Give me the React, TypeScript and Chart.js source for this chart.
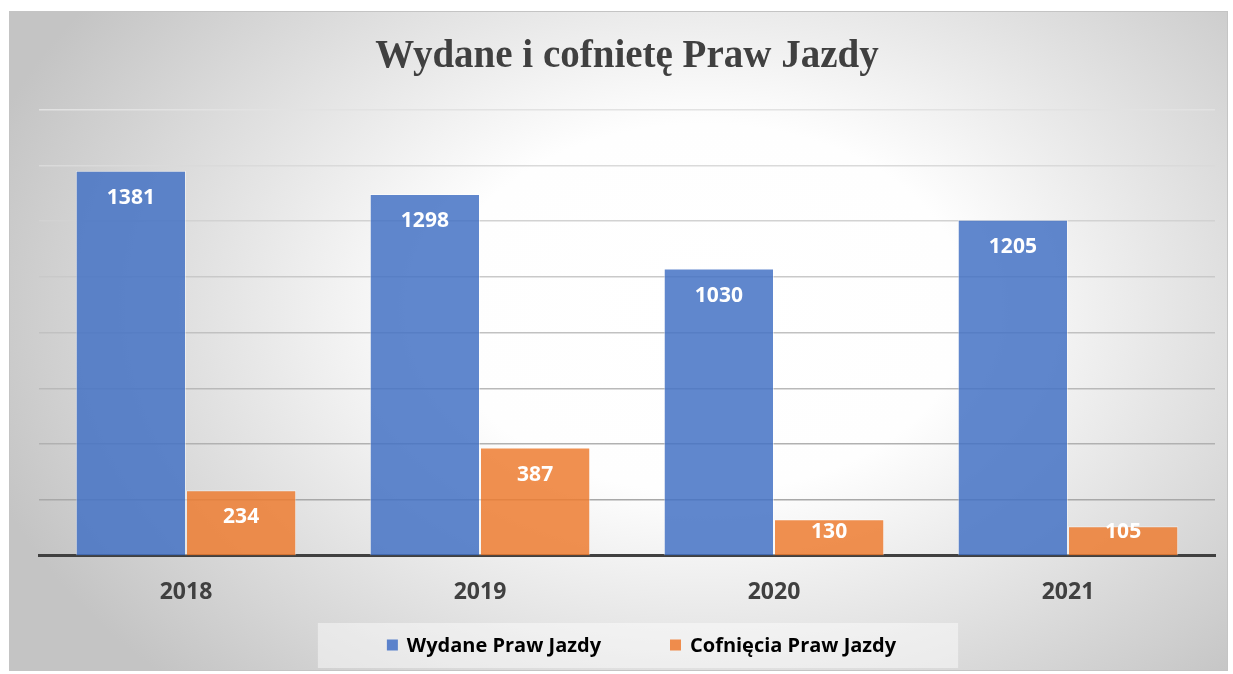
import React, { useEffect, useRef } from "react";
import { Chart, registerables } from "chart.js";

Chart.register(...registerables);

const categories = ["2018", "2019", "2020", "2021"];
const issuedLabel = "Wydane Praw Jazdy";
const revokedLabel = "Cofnięcia Praw Jazdy";
const issuedValues = [1381, 1298, 1030, 1205];
const revokedValues = [234, 387, 130, 105];
const yMax = 1600;
const yStep = 200;
const titleText = "Wydane i cofnietę Praw Jazdy";

const SANS = "'Open Sans', 'DejaVu Sans', sans-serif";

function gridColor(value: number): string {
  const t = Math.max(0, Math.min(1, value / yMax));
  const c = Math.round(160 + t * 66);
  return `rgb(${c},${c},${c})`;
}

const dataLabelPlugin = {
  id: "dataLabels",
  afterDatasetsDraw(chart: any) {
    const ctx = chart.ctx;
    ctx.save();
    ctx.fillStyle = "#ffffff";
    ctx.font = `bold 21px ${SANS}`;
    ctx.textAlign = "center";
    ctx.textBaseline = "middle";
    chart.data.datasets.forEach((ds: any, i: number) => {
      const meta = chart.getDatasetMeta(i);
      meta.data.forEach((bar: any, j: number) => {
        const y = Math.min(bar.y + 27, bar.base - 23);
        ctx.fillText(String(ds.data[j]), bar.x, y);
      });
    });
    ctx.restore();
  },
};

const customLegendPlugin = {
  id: "customLegend",
  afterDraw(chart: any) {
    const ctx = chart.ctx;
    const cy = chart.height - 25;
    ctx.save();
    ctx.font = `bold 20px ${SANS}`;
    const box = 11;
    const gap = 9;
    const itemGap = 69;
    const widths = chart.data.datasets.map(
      (ds: any) => box + gap + ctx.measureText(ds.label).width
    );
    const total = widths.reduce((a: number, b: number) => a + b, 0) + itemGap * (widths.length - 1);
    let x = chart.width / 2 - total / 2 + 23;
    ctx.fillStyle = "rgba(255,255,255,0.45)";
    ctx.fillRect(x - 69, cy - 22, total + 69 + 62, 45);
    ctx.textBaseline = "middle";
    ctx.textAlign = "left";
    chart.data.datasets.forEach((ds: any, i: number) => {
      ctx.fillStyle = ds.legendColor;
      ctx.fillRect(x, cy - box / 2, box, box);
      ctx.fillStyle = "#000000";
      ctx.fillText(ds.label, x + box + gap, cy + 1);
      x += widths[i] + itemGap;
    });
    ctx.restore();
  },
};

export default function App() {
  const canvasRef = useRef<HTMLCanvasElement | null>(null);

  useEffect(() => {
    if (!canvasRef.current) return;
    const chart = new Chart(canvasRef.current, {
      type: "bar",
      data: {
        labels: categories,
        datasets: [
          {
            label: issuedLabel,
            data: issuedValues,
            backgroundColor: "rgba(68,114,196,0.85)",
            borderColor: "rgba(255,255,255,0.45)",
            borderWidth: 1,
            legendColor: "#5b82cb",
          } as any,
          {
            label: revokedLabel,
            data: revokedValues,
            backgroundColor: "rgba(237,125,49,0.85)",
            borderColor: "rgba(255,255,255,0.45)",
            borderWidth: 1,
            legendColor: "#ef8c4c",
          } as any,
        ],
      },
      options: {
        responsive: false,
        animation: false,
        layout: { padding: { left: 29, right: 12, top: 0, bottom: 41 } },
        datasets: {
          bar: { categoryPercentage: 0.75, barPercentage: 1.0 },
        },
        plugins: {
          legend: { display: false },
          tooltip: { enabled: false },
          title: {
            display: true,
            text: titleText,
            color: "#404040",
            font: { family: "'Liberation Serif', serif", size: 39, weight: "bold", lineHeight: 1.2 },
            padding: { top: 22, bottom: 29 },
          },
        },
        scales: {
          x: {
            grid: { display: false, drawTicks: false },
            border: { display: true, color: "#404040", width: 3 },
            ticks: {
              color: "#404040",
              font: { family: SANS, size: 23, weight: "bold", lineHeight: 1.2 },
              padding: 23,
            },
          },
          y: {
            min: 0,
            max: yMax,
            ticks: { display: false, stepSize: yStep },
            border: { display: false },
            grid: {
              drawTicks: false,
              lineWidth: (c: any) => (c.tick && c.tick.value === 0 ? 0 : 1.5),
              color: (c: any) => gridColor(c.tick ? c.tick.value : 0),
            },
          },
        },
      },
      plugins: [dataLabelPlugin, customLegendPlugin],
    });
    return () => chart.destroy();
  }, []);

  return (
    <div style={{ position: "absolute", left: 0, top: 0, width: 1233, height: 674, background: "#ffffff" }}>
      <div
        style={{
          position: "absolute",
          left: 9,
          top: 11,
          width: 1219,
          height: 660,
          boxSizing: "border-box",
          border: "1px solid #c4c4c4",
          background:
            "radial-gradient(ellipse 62% 80% at 57% 45%, #ffffff 0%, #fefefe 35%, #c4c4c4 100%)",
        }}
      >
        <canvas ref={canvasRef} width={1217} height={658} style={{ display: "block" }} />
      </div>
    </div>
  );
}
